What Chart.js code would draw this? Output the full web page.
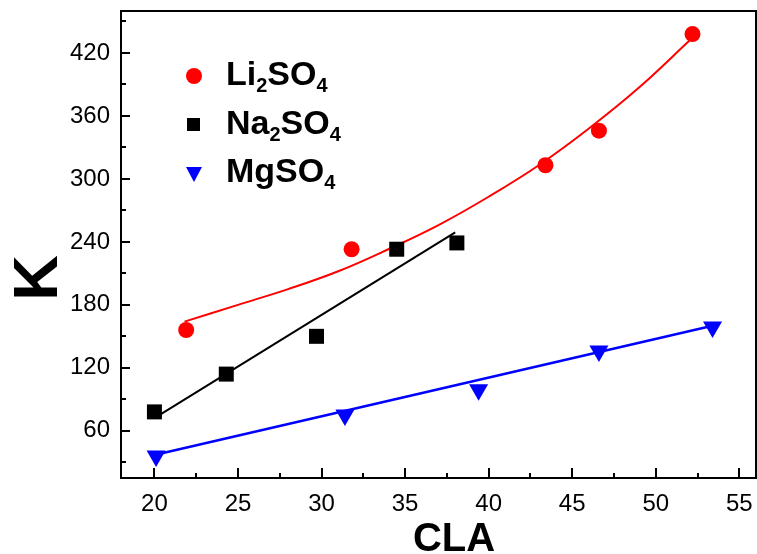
<!DOCTYPE html>
<html>
<head>
<meta charset="utf-8">
<script src="https://cdn.jsdelivr.net/npm/chart.js@4"></script>
<style>
  html, body { margin: 0; padding: 0; background: #fff; }
  #chart { display: block; }
</style>
</head>
<body>
<canvas id="chart" width="757" height="554"></canvas>
<script>
// ----------------------
// Data
// ----------------------
const liX = [21.9, 31.8, 43.4, 46.6, 52.2];
const liY = [156, 233, 313, 346, 438];
const naX = [20.0, 24.3, 29.7, 34.5, 38.1];
const naY = [78, 114, 150, 233, 239];
const mgX = [20.1, 31.4, 39.4, 46.6, 53.4];
const mgY = [36, 75, 99, 136, 159];

// fitted curves
const liFitX = [21.8, 25, 28, 31, 34, 37, 40, 43, 46, 49, 52.1];
const liFitY = [164, 180, 195, 212, 233, 256, 283, 313, 348, 387, 433];
const naFitX = [20.0, 38.0];
const naFitY = [72, 249];
const mgFitX = [20.0, 53.4];
const mgFitY = [37, 160];

const xTicks = [20, 25, 30, 35, 40, 45, 50, 55];
const yTicks = [60, 120, 180, 240, 300, 360, 420];

const FONT = '"Liberation Sans", Arial, sans-serif';
const PLOT_RIGHT = 756;

const toPts = (xs, ys) => xs.map((x, i) => ({ x, y: ys[i] }));

// ----------------------
// Stretch the x axis to the right edge (label padding is not wanted here)
// ----------------------
const stretchPlugin = {
    id: 'stretch',
    afterLayout(chart) {
        const x = chart.scales.x;
        x.right = PLOT_RIGHT;
        x.width = x.right - x.left;
        x.configure();
        chart.chartArea.right = PLOT_RIGHT;
        chart.chartArea.width = PLOT_RIGHT - chart.chartArea.left;
    }
};

// ----------------------
// Frame, inward ticks, legend and axis titles
// ----------------------
const framePlugin = {
    id: 'frame',
    afterDraw(chart) {
        const { ctx, chartArea: a, scales: { x, y } } = chart;
        ctx.save();
        ctx.strokeStyle = '#000';
        ctx.lineWidth = 2;
        ctx.strokeRect(a.left, a.top, a.right - a.left, a.bottom - a.top);

        ctx.beginPath();
        for (let v = 20; v <= 55; v += 2.5) {
            const px = Math.round(x.getPixelForValue(v));
            const len = v % 5 === 0 ? 10 : 5;
            ctx.moveTo(px, a.bottom);
            ctx.lineTo(px, a.bottom - len);
        }
        for (let v = 30; v <= 450; v += 30) {
            const py = Math.round(y.getPixelForValue(v));
            const len = v % 60 === 0 ? 9 : 5;
            ctx.moveTo(a.left, py);
            ctx.lineTo(a.left + len, py);
        }
        ctx.stroke();

        // legend
        const rows = [
            { color: '#ff0000', shape: 'circle', parts: [['Li', 0], ['2', 1], ['SO', 0], ['4', 1]] },
            { color: '#000000', shape: 'rect', parts: [['Na', 0], ['2', 1], ['SO', 0], ['4', 1]] },
            { color: '#0000ff', shape: 'tri', parts: [['MgSO', 0], ['4', 1]] }
        ];
        rows.forEach((r, i) => {
            const cy = 76 + i * 48.5;
            const base = 85 + i * 48.5;
            ctx.fillStyle = r.color;
            ctx.beginPath();
            if (r.shape === 'circle') {
                ctx.arc(194, cy, 8, 0, Math.PI * 2);
            } else if (r.shape === 'rect') {
                ctx.rect(187, cy - 6.5, 13, 13);
            } else {
                ctx.moveTo(186, cy - 6);
                ctx.lineTo(202, cy - 6);
                ctx.lineTo(194, cy + 9);
                ctx.closePath();
            }
            ctx.fill();

            ctx.fillStyle = '#000';
            ctx.textBaseline = 'alphabetic';
            ctx.textAlign = 'left';
            let tx = 226;
            r.parts.forEach(([t, sub]) => {
                ctx.font = sub ? `bold 20px ${FONT}` : `bold 34px ${FONT}`;
                ctx.fillText(t, tx, sub ? base + 7 : base);
                tx += ctx.measureText(t).width;
            });
        });

        // axis titles
        ctx.fillStyle = '#000';
        ctx.font = `bold 40px ${FONT}`;
        ctx.textAlign = 'center';
        ctx.textBaseline = 'alphabetic';
        ctx.fillText('CLA', 454, 551);

        ctx.save();
        ctx.translate(57, 278);
        ctx.rotate(-Math.PI / 2);
        ctx.font = `bold 63px ${FONT}`;
        ctx.fillText('K', 0, 0);
        ctx.restore();

        ctx.restore();
    }
};

new Chart(document.getElementById('chart').getContext('2d'), {
    type: 'scatter',
    data: {
        datasets: [
            { data: toPts(liFitX, liFitY), showLine: true, borderColor: '#ff0000', borderWidth: 2,
              pointRadius: 0, tension: 0.4, order: 1 },
            { data: toPts(naFitX, naFitY), showLine: true, borderColor: '#000000', borderWidth: 2,
              pointRadius: 0, order: 1 },
            { data: toPts(mgFitX, mgFitY), showLine: true, borderColor: '#0000ff', borderWidth: 2.5,
              pointRadius: 0, order: 1 },
            { label: 'Li2SO4', data: toPts(liX, liY), pointStyle: 'circle', pointRadius: 8,
              backgroundColor: '#ff0000', borderWidth: 0, order: 0 },
            { label: 'Na2SO4', data: toPts(naX, naY), pointStyle: 'rect', pointRadius: 10.6,
              backgroundColor: '#000000', borderWidth: 0, order: 0 },
            { label: 'MgSO4', data: toPts(mgX, mgY), pointStyle: 'triangle', pointRadius: 11,
              rotation: 180, backgroundColor: '#0000ff', borderWidth: 0, order: 0 }
        ]
    },
    options: {
        responsive: false,
        animation: false,
        layout: { padding: { top: 10, right: 1, left: 0, bottom: 0 } },
        plugins: { legend: { display: false }, tooltip: { enabled: false } },
        scales: {
            x: {
                type: 'linear', min: 18, max: 56,
                afterBuildTicks: s => { s.ticks = xTicks.map(v => ({ value: v })); },
                afterFit: s => { s.height = 76; s.paddingLeft = 0; s.paddingRight = 0; },
                ticks: { color: '#000', font: { size: 24, family: FONT }, padding: 12, maxRotation: 0 },
                grid: { display: false, drawTicks: false },
                border: { display: false }
            },
            y: {
                type: 'linear', min: 15, max: 460,
                afterBuildTicks: s => { s.ticks = yTicks.map(v => ({ value: v })); },
                afterFit: s => { s.width = 121; s.paddingTop = 0; s.paddingBottom = 0; },
                ticks: { color: '#000', font: { size: 24, family: FONT }, padding: 11 },
                grid: { display: false, drawTicks: false },
                border: { display: false }
            }
        }
    },
    plugins: [stretchPlugin, framePlugin]
});
</script>
</body>
</html>
